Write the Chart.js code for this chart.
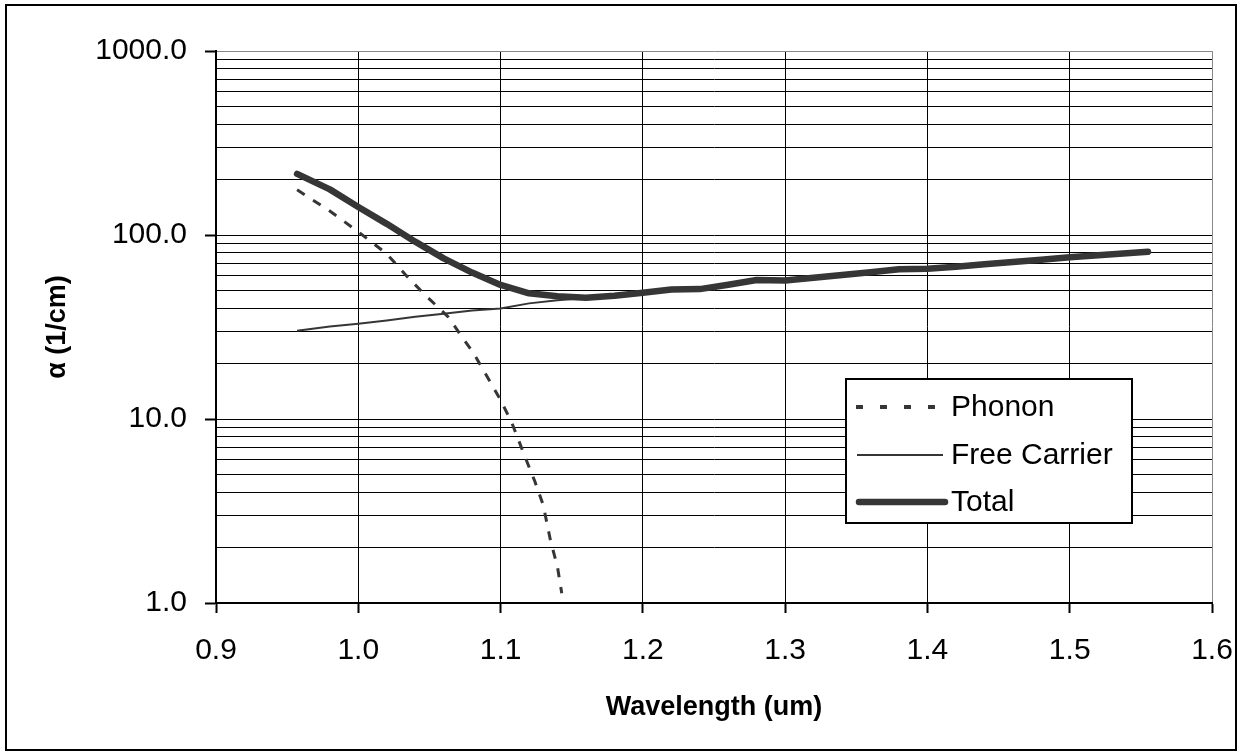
<!DOCTYPE html>
<html>
<head>
<meta charset="utf-8">
<title>Absorption vs wavelength</title>
<script src="https://cdn.jsdelivr.net/npm/chart.js@4.4.0/dist/chart.umd.min.js"></script>
<style>
  html, body { margin: 0; padding: 0; background: #fff; }
  #wrap { width: 1241px; height: 755px; }
</style>
</head>
<body>
<div id="wrap"><canvas id="chart" width="1241" height="755"></canvas></div>
<script>
// values
const wavelength = [0.957, 0.98, 1.00, 1.02, 1.04, 1.06, 1.08, 1.10, 1.12, 1.14, 1.16, 1.18, 1.20, 1.22, 1.24, 1.26, 1.28, 1.30, 1.32, 1.34, 1.36, 1.38, 1.40, 1.42, 1.44, 1.46, 1.48, 1.50, 1.52, 1.54, 1.555];
const total = [215, 177, 142, 115, 92, 74.6, 62.5, 53.5, 48.2, 46.5, 45.6, 46.8, 48.6, 50.6, 50.8, 53.7, 56.9, 56.6, 58.6, 60.7, 62.8, 65.2, 65.6, 67.3, 69.4, 71.3, 73.4, 75.7, 77.6, 79.6, 81.1];
const freeCarrier = [30.2, 31.8, 32.9, 34.3, 35.9, 37.3, 38.9, 39.9, 42.5, 44.2, 45.4, 46.7, 48.5, 50.5, 50.7, 53.6, 56.8, 56.5, 58.5, 60.6, 62.7, 65.1, 65.5, 67.2, 69.3, 71.2, 73.3, 75.6, 77.5, 79.5, 81.0];

const phononWavelength = [0.957, 0.98, 1.00, 1.02, 1.033, 1.046, 1.063, 1.072, 1.081, 1.090, 1.100, 1.108, 1.112, 1.118, 1.124, 1.130, 1.135, 1.140, 1.143];
const phonon = [176, 135, 104, 79, 61, 48, 36, 28.6, 22.8, 17.3, 12.7, 9.5, 7.9, 6.0, 4.6, 3.4, 2.2, 1.57, 1.13];

const seriesNames = ["Phonon", "Free Carrier", "Total"];

const yGridValues = [1, 2, 3, 4, 5, 6, 7, 8, 9, 10, 20, 30, 40, 50, 60, 70, 80, 90, 100, 200, 300, 400, 500, 600, 700, 800, 900, 1000];
const yLabelValues = [1, 10, 100, 1000];
const yTickLabels = ["1.0", "10.0", "100.0", "1000.0"];

const lineColor = "#363636";
Chart.defaults.font.family = "'Liberation Sans', Arial, sans-serif";
Chart.defaults.color = "#000";

const pts = (xs, ys) => xs.map((x, i) => ({ x: x, y: ys[i] }));
const isMajor = (v) => yLabelValues.indexOf(v) >= 0;

// outer frame, white background and the boxed legend
const framePlugin = {
  id: "frame",
  beforeDraw(chart) {
    const ctx = chart.ctx;
    ctx.save();
    ctx.fillStyle = "#fff";
    ctx.fillRect(0, 0, chart.width, chart.height);
    ctx.restore();
  },
  afterDraw(chart) {
    const ctx = chart.ctx;
    ctx.save();
    ctx.strokeStyle = "#000";
    ctx.lineWidth = 2;
    ctx.strokeRect(6, 5, 1230, 745);

    // legend box
    ctx.fillStyle = "#fff";
    ctx.fillRect(846, 379, 286, 144);
    ctx.strokeRect(846, 379, 286, 144);

    const rows = [407, 455, 502];
    const styles = [
      { w: 4, dash: [7, 17], x0: 856, x1: 938 },
      { w: 2, dash: [], x0: 857, x1: 943 },
      { w: 6.5, dash: [], x0: 859, x1: 945 }
    ];
    chart.data.datasets.forEach((ds, i) => {
      const s = styles[i];
      ctx.beginPath();
      ctx.strokeStyle = ds.borderColor;
      ctx.lineWidth = s.w;
      ctx.lineCap = i === 2 ? "round" : "butt";
      ctx.setLineDash(s.dash);
      ctx.moveTo(s.x0, rows[i]);
      ctx.lineTo(s.x1, rows[i]);
      ctx.stroke();
      ctx.setLineDash([]);
      ctx.fillStyle = "#000";
      ctx.font = "30px 'Liberation Sans', Arial, sans-serif";
      ctx.textBaseline = "middle";
      ctx.textAlign = "left";
      ctx.fillText(ds.label, 951, rows[i] + 1);
    });
    ctx.restore();
  }
};

new Chart(document.getElementById("chart"), {
  type: "line",
  data: {
    datasets: [
      {
        label: seriesNames[0],
        data: pts(phononWavelength, phonon),
        borderColor: lineColor,
        borderWidth: 3,
        borderDash: [9, 10],
        pointRadius: 0,
        tension: 0,
        order: 1
      },
      {
        label: seriesNames[1],
        data: pts(wavelength, freeCarrier),
        borderColor: lineColor,
        borderWidth: 2,
        pointRadius: 0,
        tension: 0,
        order: 2
      },
      {
        label: seriesNames[2],
        data: pts(wavelength, total),
        borderColor: lineColor,
        borderWidth: 6.5,
        borderCapStyle: "round",
        borderJoinStyle: "round",
        pointRadius: 0,
        tension: 0,
        order: 0
      }
    ]
  },
  options: {
    responsive: false,
    animation: false,
    layout: { padding: { left: 0, top: 51, right: 29, bottom: 0 } },
    plugins: {
      legend: { display: false },
      tooltip: { enabled: false }
    },
    scales: {
      x: {
        type: "linear",
        min: 0.9,
        max: 1.6,
        ticks: {
          stepSize: 0.1,
          padding: 20,
          font: { size: 30 },
          color: "#000",
          callback: (v) => Number(v).toFixed(1)
        },
        grid: {
          color: (c) => (c.tick && Math.abs(c.tick.value - 1.6) < 1e-6 ? "#888" : "#000"),
          lineWidth: 1,
          tickLength: 10,
          tickColor: "#000",
          tickWidth: 2
        },
        border: { color: "#000", width: 2 },
        title: {
          display: true,
          text: "Wavelength (um)",
          font: { size: 27, weight: "bold" },
          color: "#000",
          padding: { top: 0, bottom: 31 }
        },
        afterFit: (s) => { s.height = 152; s.paddingLeft = 0; s.paddingRight = 0; }
      },
      y: {
        type: "logarithmic",
        min: 1,
        max: 1000,
        afterBuildTicks: (s) => { s.ticks = yGridValues.map((v) => ({ value: v, major: isMajor(v) })); },
        ticks: {
          autoSkip: false,
          padding: 18,
          font: { size: 30 },
          color: "#000",
          callback: (v) => {
            const i = yLabelValues.indexOf(v);
            return i >= 0 ? yTickLabels[i] : "";
          }
        },
        grid: {
          color: (c) => (c.tick && c.tick.value === 1000 ? "#888" : "#000"),
          lineWidth: 1,
          tickLength: 11,
          tickWidth: 2,
          tickColor: (c) => (c.tick && isMajor(c.tick.value) ? "#000" : "rgba(0,0,0,0)")
        },
        border: { color: "#000", width: 2 },
        title: {
          display: true,
          text: "α (1/cm)",
          font: { size: 27, weight: "bold" },
          color: "#000",
          padding: { top: 41, bottom: 0 }
        },
        afterFit: (s) => { s.width = 216; s.paddingTop = 0; s.paddingBottom = 0; }
      }
    }
  },
  plugins: [framePlugin]
});
</script>
</body>
</html>
